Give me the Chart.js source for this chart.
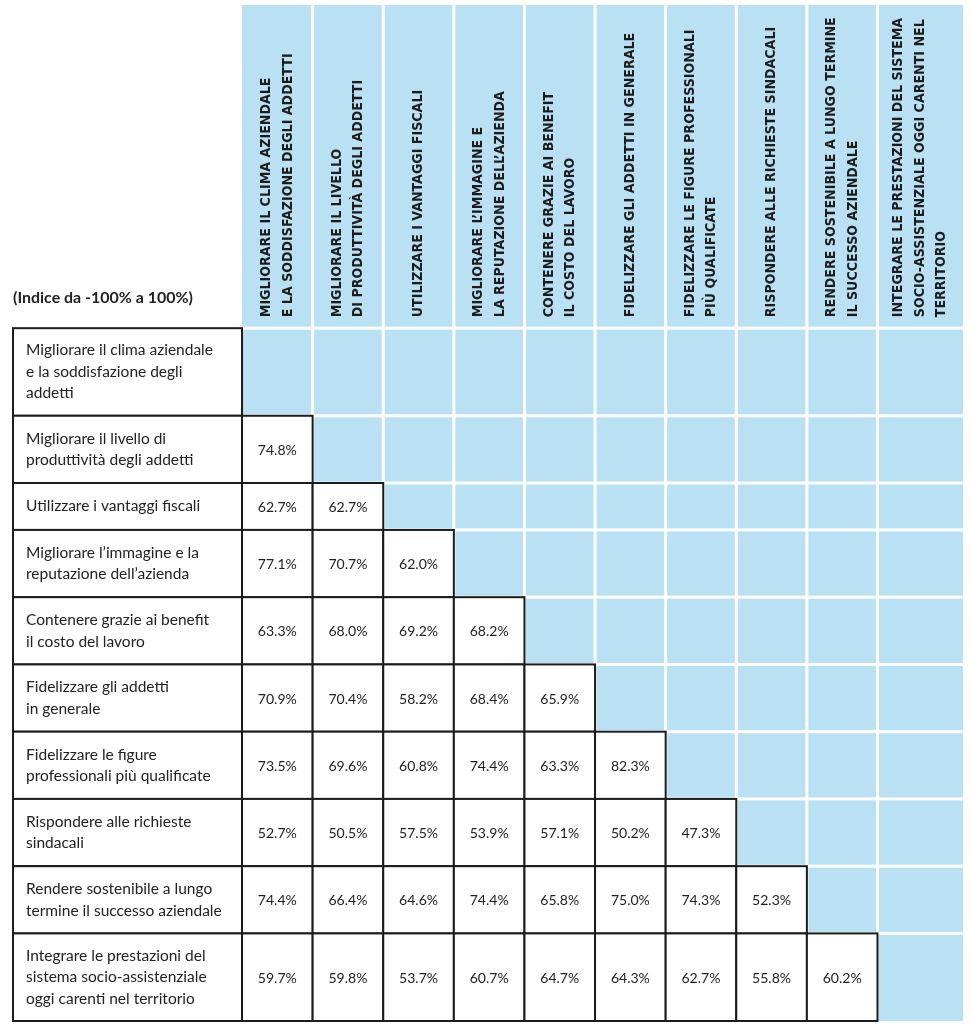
<!DOCTYPE html>
<html lang="it">
<head>
<meta charset="utf-8">
<title>Indice da -100% a 100%</title>
<script src="https://cdn.jsdelivr.net/npm/chart.js@4.4.1/dist/chart.umd.min.js"></script>
<style>
  html, body { margin: 0; padding: 0; background: #fff; }
  canvas { display: block; }
</style>
</head>
<body>
<canvas id="matrix" width="970" height="1024"></canvas>
<script>
// --- Data ---
const chartTitle = '(Indice da -100% a 100%)';

const colLabels = [
    'MIGLIORARE IL CLIMA AZIENDALE\nE LA SODDISFAZIONE DEGLI ADDETTI',
    'MIGLIORARE IL LIVELLO\nDI PRODUTTIVITÀ DEGLI ADDETTI',
    'UTILIZZARE I VANTAGGI FISCALI',
    'MIGLIORARE L’IMMAGINE E\nLA REPUTAZIONE DELL’AZIENDA',
    'CONTENERE GRAZIE AI BENEFIT\nIL COSTO DEL LAVORO',
    'FIDELIZZARE GLI ADDETTI IN GENERALE',
    'FIDELIZZARE LE FIGURE PROFESSIONALI\nPIÙ QUALIFICATE',
    'RISPONDERE ALLE RICHIESTE SINDACALI',
    'RENDERE SOSTENIBILE A LUNGO TERMINE\nIL SUCCESSO AZIENDALE',
    'INTEGRARE LE PRESTAZIONI DEL SISTEMA\nSOCIO-ASSISTENZIALE OGGI CARENTI NEL\nTERRITORIO'
];

const rowLabels = [
    'Migliorare il clima aziendale\ne la soddisfazione degli\naddetti',
    'Migliorare il livello di\nproduttività degli addetti',
    'Utilizzare i vantaggi fiscali',
    'Migliorare l’immagine e la\nreputazione dell’azienda',
    'Contenere grazie ai benefit\nil costo del lavoro',
    'Fidelizzare gli addetti\nin generale',
    'Fidelizzare le figure\nprofessionali più qualificate',
    'Rispondere alle richieste\nsindacali',
    'Rendere sostenibile a lungo\ntermine il successo aziendale',
    'Integrare le prestazioni del\nsistema socio-assistenziale\noggi carenti nel territorio'
];

// one array per row, values for the columns left of the diagonal
const clima        = [];
const produttivita = [74.8];
const fiscali      = [62.7, 62.7];
const immagine     = [77.1, 70.7, 62.0];
const costo        = [63.3, 68.0, 69.2, 68.2];
const fidelGen     = [70.9, 70.4, 58.2, 68.4, 65.9];
const fidelQual    = [73.5, 69.6, 60.8, 74.4, 63.3, 82.3];
const sindacali    = [52.7, 50.5, 57.5, 53.9, 57.1, 50.2, 47.3];
const sostenibile  = [74.4, 66.4, 64.6, 74.4, 65.8, 75.0, 74.3, 52.3];
const welfare      = [59.7, 59.8, 53.7, 60.7, 64.7, 64.3, 62.7, 55.8, 60.2];
const rowValues = [clima, produttivita, fiscali, immagine, costo, fidelGen, fidelQual, sindacali, sostenibile, welfare];

// --- Layout / style ---
const BLUE = '#b9e1f3';
const INK = '#1c1c1c';
const GAP = 3;
const LABEL_W = 229;
const HEADER_H = 322;
const lines = s => s.split('\n').length;
const colW = colLabels.map(l => Math.max(70.6, lines(l) * 21.5 + 21));
const rowH = rowLabels.map(l => lines(l) * 20.25 + 26.5);

const colEdges = [LABEL_W];
colW.forEach(w => colEdges.push(colEdges[colEdges.length - 1] + w));
const rowEdges = [HEADER_H];
rowH.forEach(h => rowEdges.push(rowEdges[rowEdges.length - 1] + h));

const cells = [];
rowLabels.forEach((_, r) => {
    colLabels.forEach((_, c) => {
        cells.push({
            x: (colEdges[c] + colEdges[c + 1]) / 2,
            y: (rowEdges[r] + rowEdges[r + 1]) / 2,
            r, c,
            v: c < r ? rowValues[r][c] : null
        });
    });
});

// font size so that a sample string gets a given width
function fitFont(ctx, weight, family, sample, width) {
    ctx.font = `${weight} 20px ${family}`;
    const size = 20 * width / ctx.measureText(sample).width;
    return `${weight} ${size.toFixed(2)}px ${family}`;
}

const gridPlugin = {
    id: 'grid',
    beforeDatasetsDraw(chart) {
        const { ctx, scales: { x, y } } = chart;
        const px = v => x.getPixelForValue(v);
        const py = v => y.getPixelForValue(v);
        const left = px(0), gx = px(LABEL_W), right = px(colEdges[colEdges.length - 1]);
        const top = py(0), hb = py(HEADER_H), bottom = py(rowEdges[rowEdges.length - 1]);

        ctx.save();
        // blue block with white separators
        ctx.fillStyle = BLUE;
        ctx.fillRect(gx, top, right - gx, bottom - top);
        ctx.fillStyle = '#fff';
        colEdges.slice(1, -1).forEach(e => ctx.fillRect(px(e) - GAP / 2, top, GAP, bottom - top));
        rowEdges.slice(0, -1).forEach(e => ctx.fillRect(gx, py(e) - GAP / 2, right - gx, GAP));

        // row label boxes
        ctx.lineWidth = 2;
        ctx.strokeStyle = INK;
        rowLabels.forEach((_, r) => {
            const y0 = py(rowEdges[r]), y1 = py(rowEdges[r + 1]);
            ctx.fillStyle = '#fff';
            ctx.fillRect(left, y0, gx - left, y1 - y0);
            ctx.strokeRect(left, y0, gx - left, y1 - y0);
        });

        // white value cells
        chart.data.datasets[0].data.forEach(d => {
            if (d.v === null) return;
            const x0 = px(colEdges[d.c]), x1 = px(colEdges[d.c + 1]);
            const y0 = py(rowEdges[d.r]), y1 = py(rowEdges[d.r + 1]);
            ctx.fillStyle = '#fff';
            ctx.fillRect(x0, y0, x1 - x0, y1 - y0);
            ctx.strokeRect(x0, y0, x1 - x0, y1 - y0);
        });

        // column headers (rotated)
        ctx.fillStyle = INK;
        ctx.font = fitFont(ctx, 700, '"DejaVu Sans Condensed", "DejaVu Sans"', 'E LA SODDISFAZIONE DEGLI ADDETTI', 264);
        ctx.textAlign = 'left';
        ctx.textBaseline = 'middle';
        colLabels.forEach((lab, c) => {
            const parts = lab.split('\n');
            const cx = px((colEdges[c] + colEdges[c + 1]) / 2);
            parts.forEach((t, i) => {
                ctx.save();
                ctx.translate(cx + (i - (parts.length - 1) / 2) * 21.5, hb - 11);
                ctx.rotate(-Math.PI / 2);
                ctx.fillText(t, 0, 0);
                ctx.restore();
            });
        });

        // row labels
        ctx.font = fitFont(ctx, 400, 'Lato', 'Migliorare il clima aziendale', 187);
        ctx.fillStyle = '#222';
        rowLabels.forEach((lab, r) => {
            const parts = lab.split('\n');
            const cy = py((rowEdges[r] + rowEdges[r + 1]) / 2);
            parts.forEach((t, i) => {
                ctx.fillText(t, left + 13, cy + (i - (parts.length - 1) / 2) * 21.5);
            });
        });

        // values
        ctx.font = fitFont(ctx, 400, 'Lato', '62.7%', 39);
        ctx.textAlign = 'center';
        chart.getDatasetMeta(0).data.forEach((pt, i) => {
            const d = chart.data.datasets[0].data[i];
            if (d.v === null) return;
            ctx.fillText(d.v.toFixed(1) + '%', pt.x, pt.y + 1);
        });

        // title
        ctx.font = fitFont(ctx, 700, 'Lato', chartTitle, 180);
        ctx.textAlign = 'left';
        ctx.fillText(chartTitle, left, hb - 30);
        ctx.restore();
    }
};

window.addEventListener('DOMContentLoaded', () => {
    const ctx = document.getElementById('matrix').getContext('2d');
    new Chart(ctx, {
        type: 'scatter',
        data: {
            datasets: [{
                data: cells,
                pointRadius: 0,
                pointHoverRadius: 0
            }]
        },
        options: {
            responsive: false,
            animation: false,
            events: [],
            layout: { padding: { left: 13, top: 5, right: 7, bottom: 3 } },
            scales: {
                x: { type: 'linear', display: false, min: 0, max: colEdges[colEdges.length - 1] },
                y: { type: 'linear', display: false, min: 0, max: rowEdges[rowEdges.length - 1], reverse: true }
            },
            plugins: {
                legend: { display: false },
                tooltip: { enabled: false }
            }
        },
        plugins: [gridPlugin]
    });
});
</script>
</body>
</html>
